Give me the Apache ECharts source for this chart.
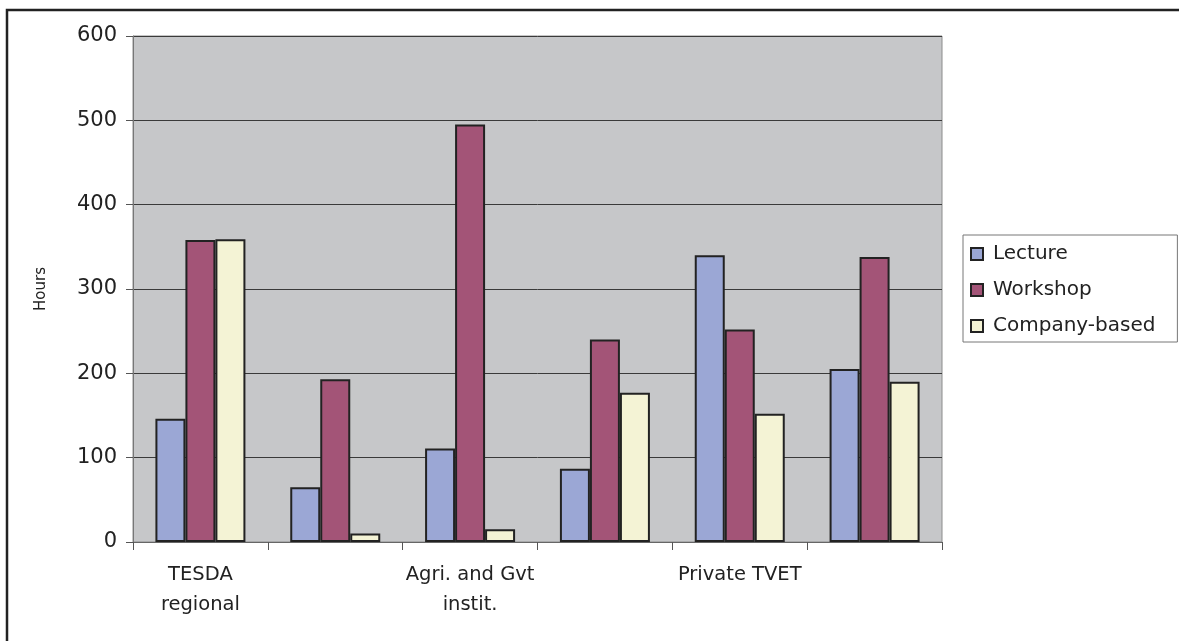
<!DOCTYPE html>
<html>
<head>
<meta charset="utf-8">
<title>Training hours by provider</title>
<script src="https://cdn.jsdelivr.net/npm/echarts@6/dist/echarts.min.js"></script>
<style>
  html, body { margin: 0; padding: 0; background: #ffffff; }
  #chart { width: 1179px; height: 641px; }
</style>
</head>
<body>
<div id="chart"></div>
<script>
// Provider groups (only every other group carries a printed name)
const categories = ['TESDA\nregional', '', 'Agri. and Gvt\ninstit.', '', 'Private TVET', ''];

// Hours per training mode
const lecture = [146, 65, 111, 87, 340, 205];
const workshop = [358, 193, 495, 240, 252, 338];
const companyBased = [359, 10, 15, 177, 152, 190];

const seriesNames = ['Lecture', 'Workshop', 'Company-based'];
const seriesColors = ['#9BA7D5', '#A35477', '#F4F3D5'];

const FONT = '"DejaVu Sans", sans-serif';

const chart = echarts.init(document.getElementById('chart'), null, { renderer: 'canvas' });

function barSeries(name, data, color) {
  return {
    name: name,
    type: 'bar',
    data: data,
    barGap: '0%',
    barWidth: 30,
    itemStyle: { color: color, borderColor: '#222222', borderWidth: 2 },
    emphasis: { disabled: true }
  };
}

chart.setOption({
  animation: false,
  backgroundColor: '#ffffff',
  graphic: [{
    type: 'rect',
    shape: { x: 7, y: 10, width: 1200, height: 700 },
    style: { fill: 'none', stroke: '#222222', lineWidth: 2.5 },
    silent: true
  }],
  grid: {
    left: 133, right: 237, top: 36, bottom: 99,
    show: true,
    backgroundColor: '#C6C7C9',
    borderColor: '#8C8C8C',
    borderWidth: 1
  },
  legend: {
    orient: 'vertical',
    left: 963, top: 235,
    padding: [7, 22, 4, 7],
    itemGap: 12,
    itemWidth: 12, itemHeight: 12,
    icon: 'rect',
    borderColor: '#777777', borderWidth: 1,
    backgroundColor: '#ffffff',
    textStyle: { fontFamily: FONT, fontSize: 20, color: '#222222', lineHeight: 24, padding: [0, 0, 0, 5] },
    data: seriesNames
  },
  xAxis: {
    type: 'category',
    data: categories,
    boundaryGap: true,
    axisLine: { show: true, lineStyle: { color: '#666666', width: 1 } },
    axisTick: { show: true, interval: 0, length: 8, lineStyle: { color: '#555555' } },
    axisLabel: {
      interval: 0, margin: 18,
      fontFamily: FONT, fontSize: 19.5, color: '#222222', lineHeight: 30
    },
    splitLine: { show: false }
  },
  yAxis: {
    type: 'value',
    min: 0, max: 600, interval: 100,
    name: 'Hours',
    nameLocation: 'middle',
    nameGap: 84,
    nameRotate: 90,
    nameTextStyle: { fontFamily: FONT, fontSize: 15, color: '#222222' },
    axisLine: { show: true, lineStyle: { color: '#777777', width: 1 } },
    axisTick: { show: true, length: 7, lineStyle: { color: '#555555' } },
    axisLabel: { margin: 16, fontFamily: FONT, fontSize: 21, color: '#222222' },
    splitLine: { show: true, lineStyle: { color: '#3A3A3A', width: 1 } }
  },
  series: [
    barSeries(seriesNames[0], lecture, seriesColors[0]),
    barSeries(seriesNames[1], workshop, seriesColors[1]),
    barSeries(seriesNames[2], companyBased, seriesColors[2])
  ]
});
</script>
</body>
</html>
